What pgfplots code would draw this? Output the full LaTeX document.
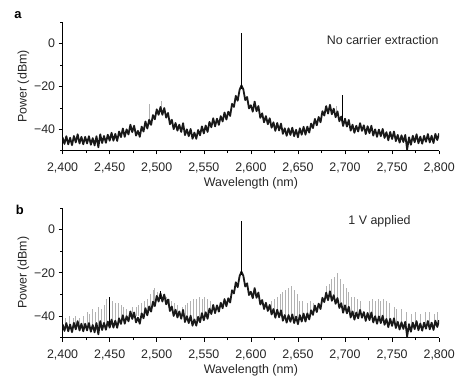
\documentclass[border=0pt]{standalone}
\usepackage{pgfplots}
\pgfplotsset{compat=1.18}
\usepackage{pgfplotstable}
\usepackage{fontspec}
\setmainfont{Liberation Sans}

\pgfplotstableread{
x y
2400 -43.9
2402 -46.9
2404 -43.3
2406 -47.1
2408 -44.0
2410 -47.5
2412 -43.2
2414 -46.2
2416 -42.4
2418 -46.7
2420 -43.6
2422 -47.1
2424 -43.6
2426 -46.7
2428 -43.3
2430 -47.3
2432 -44.2
2434 -47.6
2436 -43.3
2438 -48.5
2440 -42.4
2442 -46.5
2444 -43.2
2446 -46.4
2448 -42.6
2450 -45.4
2452 -41.7
2454 -45.4
2456 -42.2
2458 -45.5
2460 -41.1
2462 -43.7
2464 -39.7
2466 -43.6
2468 -40.1
2470 -42.5
2472 -37.9
2474 -41.4
2476 -38.4
2478 -43.0
2480 -40.8
2482 -43.6
2484 -38.8
2486 -41.1
2488 -36.4
2490 -39.7
2492 -35.6
2494 -38.0
2496 -33.4
2498 -35.4
2500 -30.7
2502 -33.3
2504 -29.6
2506 -33.3
2508 -30.1
2510 -34.6
2512 -32.4
2514 -37.7
2516 -35.6
2518 -40.0
2520 -37.1
2522 -40.7
2524 -37.9
2526 -41.3
2528 -37.2
2530 -42.8
2532 -40.1
2534 -43.3
2536 -39.9
2538 -44.5
2540 -41.6
2542 -44.5
2544 -40.4
2546 -42.9
2548 -38.7
2550 -42.0
2552 -38.3
2554 -41.3
2556 -36.6
2558 -39.1
2560 -34.9
2562 -38.7
2564 -35.1
2566 -38.0
2568 -33.9
2570 -36.4
2572 -32.2
2574 -35.5
2576 -31.8
2578 -33.8
2580 -28.1
2582 -29.6
2584 -24.4
2586 -26.7
2588 -21.6
2590 -19.5
2592 -21.4
2594 -26.4
2596 -24.9
2598 -30.3
2600 -28.8
2602 -31.8
2604 -27.1
2606 -31.6
2608 -29.2
2610 -34.7
2612 -32.6
2614 -36.8
2616 -33.9
2618 -37.7
2620 -34.9
2622 -39.3
2624 -36.8
2626 -40.8
2628 -37.1
2630 -40.6
2632 -37.4
2634 -42.2
2636 -39.6
2638 -43.1
2640 -39.6
2642 -42.7
2644 -39.3
2646 -43.3
2648 -40.3
2650 -43.8
2652 -39.6
2654 -42.6
2656 -38.9
2658 -42.6
2660 -38.8
2662 -41.6
2664 -37.4
2666 -39.5
2668 -35.2
2670 -38.2
2672 -34.3
2674 -36.8
2676 -31.6
2678 -33.6
2680 -29.2
2682 -32.7
2684 -28.6
2686 -33.0
2688 -30.4
2690 -34.4
2692 -31.7
2694 -36.3
2696 -34.1
2698 -38.5
2700 -35.1
2702 -38.8
2704 -35.7
2706 -40.7
2708 -37.9
2710 -41.7
2712 -38.4
2714 -41.1
2716 -37.2
2718 -40.8
2720 -38.2
2722 -42.3
2724 -38.6
2726 -41.9
2728 -38.4
2730 -43.0
2732 -40.1
2734 -43.6
2736 -40.2
2738 -43.3
2740 -39.9
2742 -44.1
2744 -41.4
2746 -45.2
2748 -41.3
2750 -44.6
2752 -41.1
2754 -45.6
2756 -42.7
2758 -46.3
2760 -42.9
2762 -46.0
2764 -42.7
2766 -49.5
2768 -43.8
2770 -47.3
2772 -43.1
2774 -46.1
2776 -42.4
2778 -46.6
2780 -43.5
2782 -46.8
2784 -43.1
2786 -45.9
2788 -42.3
2790 -46.2
2792 -43.1
2794 -46.5
2796 -42.2
2798 -45.1
2800 -42.0
}\band

\pgfplotsset{
  panel/.style={
    scale only axis,
    width=379pt, height=129pt,
    xmin=2400, xmax=2800, ymin=-50, ymax=10,
    axis lines*=left,
    axis line style={line width=0.6pt},
    tick style={black, line width=0.6pt},
    tick align=outside,
    major tick length=4pt, minor tick length=2.5pt,
    xtick={2400,2450,2500,2550,2600,2650,2700,2750,2800},
    xticklabels={{2,400},{2,450},{2,500},{2,550},{2,600},{2,650},{2,700},{2,750},{2,800}},
    minor xtick={2425,2475,2525,2575,2625,2675,2725,2775},
    ytick={-40,-20,0},
    yticklabels={−40,−20,0},
    minor ytick={-50,-30,-10,10},
    ticklabel style={font=\fontsize{12.5}{14}\selectfont, text=black!85},
    xticklabel style={yshift=-5pt},
    label style={font=\fontsize{12.5}{14}\selectfont, text=black!85},
    xlabel={Wavelength (nm)},
    ylabel={Power (dBm)},
    xlabel style={yshift=3pt},
    ylabel style={yshift=-2pt},
    clip=true,
    unbounded coords=jump,
  },
  bandline/.style={black!90, line width=1.8pt, line join=round},
  spikes/.style={gray!60, line width=0.8pt},
}

\begin{document}
\begin{tikzpicture}
\path (0,0) rectangle (458pt,-385pt);

% ---------------- panel a ----------------
\begin{axis}[panel, anchor=south west, at={(63pt,-151.5pt)}]
\addplot[spikes] coordinates {
(2492,-38) (2492,-28) (2492,nan)
(2504.5,-32) (2504.5,-27) (2504.5,nan)
(2690.5,-33) (2690.5,-29) (2690.5,nan)
};
\addplot[bandline] table[x=x,y=y] {\band};
\addplot[black, line width=0.7pt] coordinates {(2590,-21) (2590,5) (2590,nan) (2697,-36) (2697,-24) (2697,nan)};
\end{axis}
\node[font=\bfseries\fontsize{13}{15}\selectfont] at (18pt,-15pt) {a};
\node[font=\fontsize{12.5}{14}\selectfont, text=black!85, anchor=east] at (445pt,-40pt) {No carrier extraction};

% ---------------- panel b ----------------
\begin{axis}[panel, height=130.5pt, anchor=south west, at={(63pt,-339.75pt)}]
\addplot[spikes] coordinates {
(2403,-45) (2403,-41) (2403,nan)
(2407,-45) (2407,-40) (2407,nan)
(2411,-45) (2411,-41) (2411,nan)
(2414,-45) (2414,-40) (2414,nan)
(2418,-45) (2418,-41) (2418,nan)
(2422,-45) (2422,-40) (2422,nan)
(2426,-45) (2426,-38) (2426,nan)
(2429,-45) (2429,-39) (2429,nan)
(2432,-45) (2432,-37) (2432,nan)
(2435,-45) (2435,-38) (2435,nan)
(2438,-45) (2438,-36) (2438,nan)
(2441,-44) (2441,-37) (2441,nan)
(2444,-44) (2444,-35) (2444,nan)
(2447,-44) (2447,-32) (2447,nan)
(2453,-44) (2453,-33) (2453,nan)
(2456,-44) (2456,-34) (2456,nan)
(2459,-44) (2459,-34) (2459,nan)
(2462,-42) (2462,-35) (2462,nan)
(2465,-42) (2465,-36) (2465,nan)
(2468,-42) (2468,-37) (2468,nan)
(2474,-40) (2474,-36) (2474,nan)
(2478,-40) (2478,-36) (2478,nan)
(2481,-40) (2481,-35) (2481,nan)
(2484,-40) (2484,-34) (2484,nan)
(2487,-40) (2487,-33) (2487,nan)
(2490,-38) (2490,-32) (2490,nan)
(2493,-36) (2493,-30) (2493,nan)
(2496,-36) (2496,-28) (2496,nan)
(2498,-36) (2498,-27) (2498,nan)
(2501,-32) (2501,-29) (2501,nan)
(2507,-32) (2507,-30) (2507,nan)
(2510,-34) (2510,-31) (2510,nan)
(2513,-36) (2513,-32) (2513,nan)
(2516,-36) (2516,-33) (2516,nan)
(2519,-38) (2519,-34) (2519,nan)
(2522,-39) (2522,-35) (2522,nan)
(2527,-39) (2527,-36) (2527,nan)
(2530,-42) (2530,-35) (2530,nan)
(2533,-42) (2533,-34) (2533,nan)
(2536,-42) (2536,-33) (2536,nan)
(2539,-42) (2539,-32) (2539,nan)
(2542,-42) (2542,-32) (2542,nan)
(2545,-41) (2545,-31) (2545,nan)
(2548,-40) (2548,-32) (2548,nan)
(2551,-39) (2551,-31) (2551,nan)
(2554,-39) (2554,-32) (2554,nan)
(2557,-38) (2557,-33) (2557,nan)
(2622,-38) (2622,-33) (2622,nan)
(2625,-38) (2625,-32) (2625,nan)
(2628,-39) (2628,-31) (2628,nan)
(2631,-40) (2631,-30) (2631,nan)
(2634,-41) (2634,-29) (2634,nan)
(2637,-41) (2637,-28) (2637,nan)
(2640,-41) (2640,-27) (2640,nan)
(2643,-41) (2643,-26) (2643,nan)
(2646,-41) (2646,-28) (2646,nan)
(2649,-41) (2649,-30) (2649,nan)
(2652,-41) (2652,-33) (2652,nan)
(2655,-41) (2655,-33) (2655,nan)
(2660,-40) (2660,-34) (2660,nan)
(2663,-39) (2663,-33) (2663,nan)
(2666,-38) (2666,-34) (2666,nan)
(2680,-32) (2680,-26) (2680,nan)
(2683,-31) (2683,-25) (2683,nan)
(2686,-31) (2686,-23) (2686,nan)
(2689,-32) (2689,-22) (2689,nan)
(2692,-34) (2692,-20) (2692,nan)
(2695,-35) (2695,-23) (2695,nan)
(2698,-36) (2698,-25) (2698,nan)
(2701,-37) (2701,-27) (2701,nan)
(2704,-38) (2704,-29) (2704,nan)
(2707,-39) (2707,-31) (2707,nan)
(2710,-39) (2710,-31) (2710,nan)
(2713,-39) (2713,-32) (2713,nan)
(2716,-39) (2716,-33) (2716,nan)
(2726,-41) (2726,-33) (2726,nan)
(2729,-41) (2729,-32) (2729,nan)
(2732,-41) (2732,-33) (2732,nan)
(2735,-42) (2735,-32) (2735,nan)
(2738,-42) (2738,-33) (2738,nan)
(2741,-42) (2741,-32) (2741,nan)
(2744,-42) (2744,-33) (2744,nan)
(2747,-43) (2747,-34) (2747,nan)
(2752,-43) (2752,-36) (2752,nan)
(2755,-44) (2755,-37) (2755,nan)
(2760,-44) (2760,-37) (2760,nan)
(2765,-44) (2765,-38) (2765,nan)
(2770,-45) (2770,-39) (2770,nan)
(2775,-45) (2775,-38) (2775,nan)
(2780,-45) (2780,-39) (2780,nan)
(2785,-45) (2785,-38) (2785,nan)
(2790,-44) (2790,-38) (2790,nan)
(2795,-44) (2795,-39) (2795,nan)
(2798,-44) (2798,-38) (2798,nan)
};
\addplot[bandline] table[x=x,y=y] {\band};
\addplot[black, line width=0.7pt] coordinates {(2590,-21) (2590,4) (2590,nan) (2450,-44) (2450,-31) (2450,nan) (2504,-32) (2504,-28.5) (2504,nan)};
\end{axis}
\node[font=\bfseries\fontsize{13}{15}\selectfont] at (20pt,-211pt) {b};
\node[font=\fontsize{12.5}{14}\selectfont, text=black!85] at (382pt,-223pt) {1 V applied};
\end{tikzpicture}
\end{document}
